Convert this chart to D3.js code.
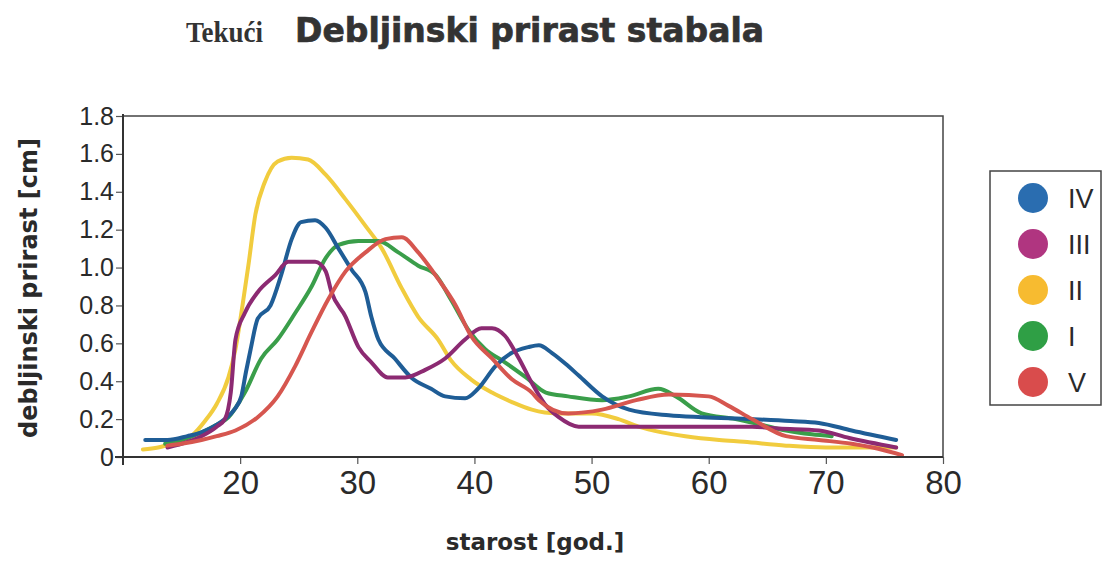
<!DOCTYPE html>
<html>
<head>
<meta charset="utf-8">
<script src="https://cdn.jsdelivr.net/npm/d3@7"></script>
<style>
  html, body { margin: 0; padding: 0; background: #ffffff; }
  svg { display: block; }
</style>
</head>
<body>
<svg id="chart" width="1106" height="568"></svg>
<script>
// Diameter increment of trees by site class (bonitet), age in years vs. increment in cm
const classNames = ["IV", "III", "II", "I", "V"];
const classColors = ["#1f5d96", "#8c2a72", "#f1cc3e", "#3a9e4a", "#d6564f"];
const legendColors = ["#2a6db0", "#b03580", "#f7bb30", "#2f9f45", "#d94c4c"];

const yTicks = [0, 0.2, 0.4, 0.6, 0.8, 1.0, 1.2, 1.4, 1.6, 1.8];
const xTicks = [20, 30, 40, 50, 60, 70, 80];

// class IV
const ageIV = [11.9, 13.8, 15.5, 16.7, 18, 18.7, 19.5, 20.1, 20.5, 20.9, 21.5, 22.6, 23.5, 24.4, 25.2, 26.4, 27.3, 28.4, 29.5, 30.7, 31.2, 31.8, 33.2, 34.6, 36.3, 37.5, 39.2, 40.3, 41.8, 43.2, 44.6, 45.5, 46.6, 48, 48.9, 50.9, 53.2, 56.6, 59.4, 63.7, 67, 69.4, 72.2, 76];
const incIV = [0.09, 0.09, 0.11, 0.13, 0.17, 0.20, 0.25, 0.32, 0.45, 0.57, 0.73, 0.80, 0.96, 1.15, 1.24, 1.25, 1.21, 1.10, 0.99, 0.87, 0.74, 0.62, 0.52, 0.42, 0.36, 0.32, 0.31, 0.36, 0.48, 0.55, 0.58, 0.59, 0.55, 0.48, 0.43, 0.32, 0.25, 0.22, 0.21, 0.20, 0.19, 0.18, 0.14, 0.09];

// class III
const ageIII = [13.8, 15.5, 16.7, 18, 18.7, 19.2, 19.6, 20.4, 21.5, 23, 24.1, 26.4, 27.3, 27.8, 29, 30.1, 31.2, 32.6, 34.1, 35.8, 37.5, 39.2, 40.6, 41.5, 42.6, 43.8, 44.9, 46, 47.2, 48.9, 52, 56, 60, 63.7, 66, 69.4, 72, 76];
const incIII = [0.05, 0.08, 0.11, 0.16, 0.20, 0.34, 0.62, 0.76, 0.87, 0.96, 1.03, 1.03, 0.98, 0.87, 0.74, 0.58, 0.50, 0.42, 0.42, 0.46, 0.52, 0.62, 0.68, 0.68, 0.64, 0.52, 0.39, 0.28, 0.21, 0.16, 0.16, 0.16, 0.16, 0.16, 0.15, 0.14, 0.10, 0.05];

// class II
const ageII = [11.7, 13, 14.5, 16, 17, 18, 19, 19.6, 20.2, 20.7, 21.3, 22.1, 23.2, 24.4, 25.8, 27.3, 29, 30.7, 32.1, 33.8, 35.2, 36.9, 38, 39.7, 41.5, 43.2, 44.9, 47, 50, 52.3, 54, 56, 58, 60.9, 63, 66.6, 70, 72.2, 76];
const incII = [0.04, 0.05, 0.08, 0.12, 0.19, 0.28, 0.42, 0.57, 0.80, 1.01, 1.28, 1.45, 1.56, 1.58, 1.57, 1.49, 1.36, 1.22, 1.10, 0.89, 0.74, 0.62, 0.51, 0.41, 0.34, 0.29, 0.25, 0.23, 0.23, 0.20, 0.16, 0.13, 0.11, 0.09, 0.08, 0.06, 0.05, 0.05, 0.05];

// class I
const ageI = [13.6, 15, 16.7, 18, 19, 20.4, 21.8, 23.2, 24.7, 26.1, 27.3, 28.4, 30.1, 31.8, 33.5, 35.2, 36.7, 38, 39.5, 40.9, 42.6, 44.4, 46.1, 48, 50.9, 53.2, 55.7, 57.2, 59.4, 62.3, 64.5, 66.6, 68.8, 70.5];
const incI = [0.07, 0.09, 0.13, 0.17, 0.21, 0.34, 0.52, 0.62, 0.76, 0.90, 1.05, 1.12, 1.14, 1.14, 1.08, 1.01, 0.96, 0.83, 0.67, 0.57, 0.50, 0.42, 0.34, 0.32, 0.30, 0.32, 0.36, 0.32, 0.23, 0.20, 0.17, 0.14, 0.12, 0.11];

// class V
const ageV = [13.8, 15, 16.7, 18, 19.6, 21.5, 23.2, 24.7, 26.1, 27.5, 29, 30.7, 32.4, 33.8, 35.2, 36.9, 38.4, 39.7, 41.5, 43.2, 44.9, 45.5, 48, 50.9, 53.8, 56.6, 60, 61.7, 63.7, 66.6, 69.4, 72.2, 74, 76.5];
const incV = [0.06, 0.07, 0.09, 0.11, 0.14, 0.21, 0.32, 0.48, 0.66, 0.83, 0.98, 1.08, 1.15, 1.16, 1.08, 0.94, 0.80, 0.64, 0.52, 0.41, 0.34, 0.30, 0.23, 0.25, 0.30, 0.33, 0.32, 0.27, 0.20, 0.11, 0.09, 0.07, 0.05, 0.01];

const series = [
  { name: "IV", ages: ageIV, vals: incIV },
  { name: "III", ages: ageIII, vals: incIII },
  { name: "II", ages: ageII, vals: incII },
  { name: "I", ages: ageI, vals: incI },
  { name: "V", ages: ageV, vals: incV }
];
const drawOrder = ["II", "I", "IV", "III", "V"];

const svg = d3.select("#chart");
const plot = { left: 123, right: 943, top: 116, bottom: 457 };

const x = d3.scaleLinear().domain([10, 80]).range([plot.left, plot.right]);
const y = d3.scaleLinear().domain([0, 1.8]).range([plot.bottom, plot.top]);
const color = d3.scaleOrdinal().domain(classNames).range(classColors);
const legendColor = d3.scaleOrdinal().domain(classNames).range(legendColors);

// plot frame (top and right edges)
svg.append("path")
  .attr("d", `M${plot.left},${plot.top}H${plot.right}V${plot.bottom}`)
  .attr("fill", "none").attr("stroke", "#444").attr("stroke-width", 1.5);

// curves
const line = d3.line()
  .x(d => x(d[0])).y(d => y(d[1]))
  .curve(d3.curveMonotoneX);

const byName = new Map(series.map(s => [s.name, s]));
svg.append("g").selectAll("path")
  .data(drawOrder.map(n => byName.get(n)))
  .join("path")
  .attr("d", s => line(s.ages.map((a, i) => [a, s.vals[i]])))
  .attr("fill", "none")
  .attr("stroke", s => color(s.name))
  .attr("stroke-width", 4)
  .attr("stroke-linejoin", "round")
  .attr("stroke-linecap", "round");

// y axis
const yAxis = svg.append("g")
  .attr("transform", `translate(${plot.left},0)`)
  .call(d3.axisLeft(y).tickValues(yTicks).tickSize(7).tickPadding(2)
    .tickFormat(d => d === 0 ? "0" : d3.format(".1f")(d)));
yAxis.select(".domain").remove();
yAxis.append("line")
  .attr("x1", 0).attr("x2", 0).attr("y1", plot.top - 2).attr("y2", plot.bottom + 8)
  .attr("stroke", "#333").attr("stroke-width", 2);
yAxis.selectAll(".tick line").attr("stroke", "#555").attr("stroke-width", 1.2);
yAxis.selectAll(".tick text")
  .attr("font-family", "'Liberation Sans', Arial, sans-serif")
  .attr("font-size", 25).attr("fill", "#2a2a2a");

// x axis
const xAxis = svg.append("g")
  .attr("transform", `translate(0,${plot.bottom})`)
  .call(d3.axisBottom(x).tickValues(xTicks).tickSize(7).tickPadding(7));
xAxis.select(".domain").remove();
xAxis.append("line")
  .attr("x1", plot.left - 8).attr("x2", plot.right).attr("y1", 0).attr("y2", 0)
  .attr("stroke", "#333").attr("stroke-width", 2);
xAxis.selectAll(".tick line").attr("stroke", "#555").attr("stroke-width", 1.2);
xAxis.selectAll(".tick text")
  .attr("font-family", "'Liberation Sans', Arial, sans-serif")
  .attr("font-size", 33).attr("fill", "#2a2a2a");

// axis titles
svg.append("text")
  .attr("transform", "translate(37,288) rotate(-90)")
  .attr("text-anchor", "middle")
  .attr("font-family", "'DejaVu Sans', sans-serif")
  .attr("font-weight", "bold").attr("font-size", 24)
  .attr("fill", "#2a2a2a")
  .text("debljinski prirast [cm]");

svg.append("text")
  .attr("x", 535).attr("y", 550)
  .attr("text-anchor", "middle")
  .attr("font-family", "'DejaVu Sans', sans-serif")
  .attr("font-weight", "bold").attr("font-size", 23)
  .attr("fill", "#2a2a2a")
  .text("starost [god.]");

// title
svg.append("text")
  .attr("x", 186).attr("y", 42)
  .attr("font-family", "'Liberation Serif', 'Times New Roman', serif")
  .attr("font-weight", "bold").attr("font-size", 29)
  .attr("textLength", 77).attr("lengthAdjust", "spacingAndGlyphs")
  .attr("fill", "#333")
  .text("Tekući");
svg.append("text")
  .attr("x", 295).attr("y", 42)
  .attr("font-family", "'DejaVu Sans', sans-serif")
  .attr("font-weight", "bold").attr("font-size", 33)
  .attr("fill", "#333").attr("stroke", "#333").attr("stroke-width", 0.7)
  .text("Debljinski prirast stabala");

// legend
const legend = svg.append("g");
legend.append("rect")
  .attr("x", 990).attr("y", 171).attr("width", 111).attr("height", 234)
  .attr("fill", "#fff").attr("stroke", "#444").attr("stroke-width", 1.5);
const legendY = d3.scalePoint().domain(classNames).range([198, 382]);
const items = legend.selectAll("g.item").data(classNames).join("g")
  .attr("class", "item")
  .attr("transform", d => `translate(0,${legendY(d)})`);
items.append("circle")
  .attr("cx", 1033).attr("cy", 0).attr("r", 15)
  .attr("fill", d => legendColor(d));
items.append("text")
  .attr("x", 1068).attr("y", 0).attr("dy", "0.36em")
  .attr("font-family", "'Liberation Sans', Arial, sans-serif")
  .attr("font-size", 27).attr("fill", "#2a2a2a")
  .text(d => d);
</script>
</body>
</html>
